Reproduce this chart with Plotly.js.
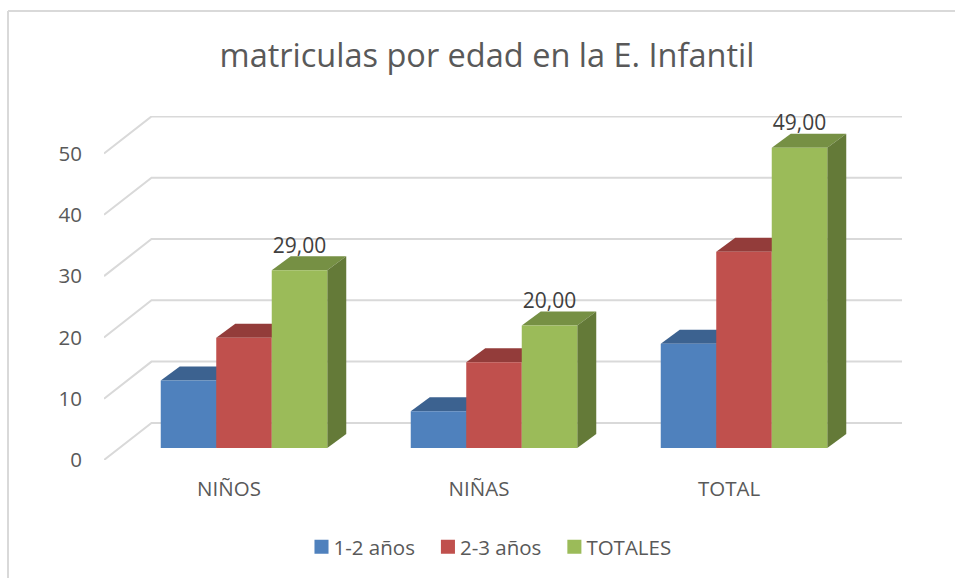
<!DOCTYPE html>
<html>
<head>
<meta charset="utf-8">
<script src="https://cdn.plot.ly/plotly-3.0.1.min.js"></script>
<style>html,body{margin:0;padding:0;background:#fff;overflow:hidden}#chart{width:955px;height:578px}</style>
</head>
<body>
<div id="chart"></div>
<script>
const categories = ['NIÑOS', 'NIÑAS', 'TOTAL'];
const edad12 = [11, 6, 17];
const edad23 = [18, 14, 32];
const totales = [29, 20, 49];
const seriesNames = ['1-2 años', '2-3 años', 'TOTALES'];
const yTicks = [0, 10, 20, 30, 40, 50];
const frontColors = ['#4F81BD', '#C0504D', '#9BBB59'];
const topColors = ['#3C6290', '#933C3A', '#769044'];
const sideColors = ['#345378', '#7E3533', '#647A38'];

const FONT = '"Open Sans", sans-serif';
const seriesVals = [edad12, edad23, totales];
const xPos = categories.map((_, i) => i);
const lift = 1.958, xShift = 0.06, barW = 0.222;
const depthX = 0.076, depthY = 2.284;
const wallX = 0.19, wallY = 6.05;
const xRange = [-0.5, 2.692], yRange = [0, 56.12];

const shapes = [];
yTicks.forEach(v => {
  shapes.push({type: 'path', layer: 'below', xref: 'x', yref: 'y',
    path: `M${xRange[0]},${v} L${xRange[0] + wallX},${v + wallY} L${xRange[1]},${v + wallY}`,
    line: {color: '#D9D9D9', width: 2}});
});
seriesVals.forEach((vals, k) => {
  vals.forEach((v, i) => {
    const x0 = i + xShift + (k - 1.5) * barW, x1 = x0 + barW;
    const yb = lift, yt = v + lift;
    shapes.push({type: 'path', layer: 'below', xref: 'x', yref: 'y',
      path: `M${x0},${yt} L${x0 + depthX},${yt + depthY} L${x1 + depthX},${yt + depthY} L${x1},${yt} Z`,
      fillcolor: topColors[k], line: {width: 0}});
    shapes.push({type: 'path', layer: 'below', xref: 'x', yref: 'y',
      path: `M${x1},${yb} L${x1 + depthX},${yb + depthY} L${x1 + depthX},${yt + depthY} L${x1},${yt} Z`,
      fillcolor: sideColors[k], line: {width: 0}});
  });
});
// outer chart frame: only the top and left edges are visible in the picture
const pxL = 104, pxW = 798, pxB = 460, pxH = 344;
const frameLeft = (8 - pxL) / pxW, frameRight = (955 - pxL) / pxW;
const frameTop = (pxB - 11) / pxH, frameBottom = (pxB - 578) / pxH;
shapes.push({type: 'line', layer: 'below', xref: 'paper', yref: 'paper',
  x0: frameLeft, x1: frameRight, y0: frameTop, y1: frameTop,
  line: {color: '#D9D9D9', width: 2}});
shapes.push({type: 'line', layer: 'below', xref: 'paper', yref: 'paper',
  x0: frameLeft, x1: frameLeft, y0: frameBottom, y1: frameTop,
  line: {color: '#D9D9D9', width: 2}});

const traces = seriesVals.map((vals, k) => ({
  type: 'bar', name: seriesNames[k],
  x: xPos.map(i => i + xShift), y: vals, base: lift,
  marker: {color: frontColors[k], line: {width: 0}},
  hoverinfo: 'x+y'
}));
traces.push({
  type: 'scatter', mode: 'text', showlegend: false, hoverinfo: 'skip', cliponaxis: false,
  x: xPos.map(i => i + xShift + barW),
  y: totales.map(v => v + lift + 3.75),
  text: totales.map(v => v.toFixed(2).replace('.', ',')),
  textposition: 'middle center',
  textfont: {family: FONT, size: 21, color: '#404040'}
});

const layout = {
  width: 955, height: 578,
  margin: {l: 104, r: 53, t: 116, b: 118, pad: 0},
  paper_bgcolor: '#fff', plot_bgcolor: 'rgba(0,0,0,0)',
  barmode: 'group', bargap: 0.334, bargroupgap: 0,
  title: {text: 'matriculas por edad en la E. Infantil',
    font: {family: FONT, size: 32.5, color: '#595959'},
    x: 487 / 955, xanchor: 'center', y: 1 - 56 / 578, yanchor: 'middle'},
  xaxis: {range: xRange, tickvals: xPos, ticktext: categories,
    showgrid: false, zeroline: false, showline: false,
    ticks: 'outside', ticklen: 10, tickcolor: 'rgba(0,0,0,0)',
    tickfont: {family: FONT, size: 20.5, color: '#595959'}},
  yaxis: {range: yRange, tickvals: yTicks, ticktext: yTicks.map(String),
    showgrid: false, zeroline: false, showline: false,
    ticks: 'outside', ticklen: 17, tickcolor: 'rgba(0,0,0,0)',
    tickfont: {family: FONT, size: 20.5, color: '#595959'}},
  legend: {orientation: 'h', x: 485 / 955, xref: 'container', xanchor: 'center',
    y: 1 - 547 / 578, yref: 'container', yanchor: 'middle',
    font: {family: FONT, size: 20.5, color: '#595959'}, traceorder: 'normal',
    itemwidth: 30, itemclick: false, itemdoubleclick: false},
  shapes: shapes,
  showlegend: true
};
Plotly.newPlot('chart', traces, layout, {displayModeBar: false}).then(gd => {
  // legend swatches: larger and closer to their labels, as in the picture
  gd.querySelectorAll('.legend .legendpoints path').forEach(p => {
    p.setAttribute('transform', 'translate(28,0) scale(1.17)');
  });
});
</script>
</body>
</html>
